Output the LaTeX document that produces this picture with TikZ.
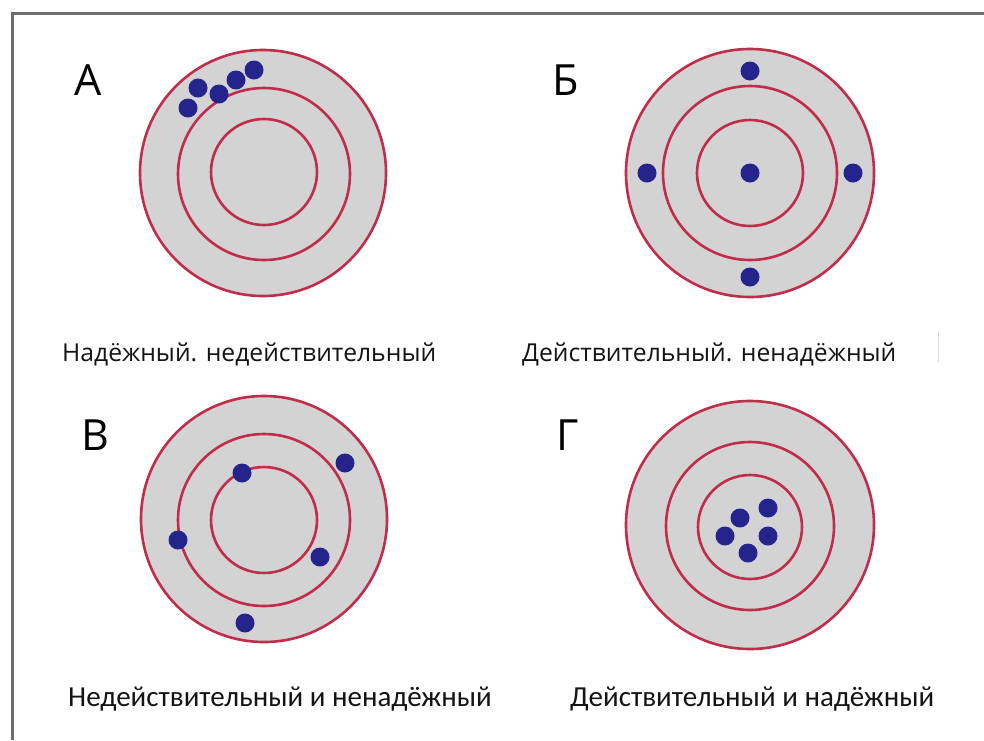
\documentclass[tikz,border=0pt]{standalone}
\usepackage{fontspec}
\setmainfont{Open Sans}
\newfontfamily\carl{Carlito}
\begin{document}
\begin{tikzpicture}[x=1pt,y=-1pt,
  ring/.style={draw=ringred,line width=2.6pt},
  hit/.style={fill=dotblue},
  letter/.style={anchor=base,font=\fontsize{43}{46}\selectfont,inner sep=0pt},
  caption/.style={anchor=base west,font=\fontsize{24.7}{28}\selectfont,inner sep=0pt,text=black!92},
  caption2/.style={anchor=base west,font=\carl\fontsize{29}{32}\selectfont,inner sep=0pt,text=black!92}]
\definecolor{ringred}{RGB}{192,45,75}
\definecolor{dotblue}{RGB}{36,36,140}
\definecolor{tgray}{RGB}{211,211,211}
\useasboundingbox (0,0) rectangle (984,740);
\fill[white] (0,0) rectangle (984,740);
% frame (top and left edges)
\draw[line width=3pt,gray!85!black] (12,740) -- (12,13) -- (984,13);
\draw[line width=1pt,gray!30] (938,332) -- (938,362);
% target A
\begin{scope}[shift={(263,173)}]
\fill[tgray] (0,0) circle (123);
\draw[ring] (0,0) circle (123);
\draw[ring] (1,1) circle (86);
\draw[ring] (1,-1) circle (53);
\foreach \p in {(-9,-103),(-27,-93),(-44,-79),(-65,-85),(-75,-65)} \fill[dotblue] \p circle (9.5);
\end{scope}
% target B
\begin{scope}[shift={(750,173)}]
\fill[tgray] (0,0) circle (124);
\draw[ring] (0,0) circle (124);
\draw[ring] (0,0) circle (87);
\draw[ring] (0,0) circle (53);
\foreach \p in {(0,0),(0,-102),(0,104),(-103,0),(103,0)} \fill[dotblue] \p circle (9.5);
\end{scope}
% target C
\begin{scope}[shift={(264,519)}]
\fill[tgray] (0,0) circle (123);
\draw[ring] (0,0) circle (123);
\draw[ring] (0,1) circle (86);
\draw[ring] (0,1) circle (53);
\foreach \p in {(-22,-46),(81,-56),(-86,21),(56,38),(-19,104)} \fill[dotblue] \p circle (9.5);
\end{scope}
% target D
\begin{scope}[shift={(750,525)}]
\fill[tgray] (0,0) circle (124);
\draw[ring] (0,0) circle (124);
\draw[ring] (0,1) circle (84);
\draw[ring] (0,2) circle (52);
\foreach \p in {(-10,-7),(18,-17),(-25,11),(18,11),(-2,28)} \fill[dotblue] \p circle (9.5);
\end{scope}
% letters
\node[letter] (la) at (88,95) {А};
\node[letter] (lb) at (566,95) {Б};
\node[letter] (lc) at (95,450) {В};
\node[letter] (ld) at (568,450) {Г};
% captions
\node[caption] (ca) at (62,361) {Надёжный. недействительный};
\node[caption] (cb) at (522,361) {Действительный. ненадёжный};
\node[caption2] (cc) at (68,706) {Недействительный и ненадёжный};
\node[caption2] (cd) at (570,706) {Действительный и надёжный};
\end{tikzpicture}
\end{document}
